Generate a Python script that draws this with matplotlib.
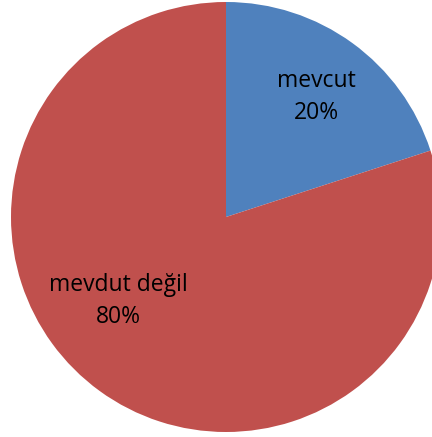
import matplotlib.pyplot as plt

labels = ['mevcut', 'mevdut değil']
values = [20, 80]
colors = ['#4F81BD', '#C0504D']

W, H = 432, 437
cx, cy, r = 226, 217, 215  # pie centre and radius in pixels

fig = plt.figure(figsize=(W / 100, H / 100), dpi=100)
ax = fig.add_axes([0, 0, 1, 1])
ax.pie(values, colors=colors, startangle=90, counterclock=False,
       wedgeprops=dict(linewidth=0))
ax.set_xlim(-cx / r, (W - cx) / r)
ax.set_ylim(-(H - cy) / r, cy / r)
ax.set_aspect('equal')
ax.axis('off')

# label positions (pie units)
label_pos = [(0.42, 0.56), (-0.50, -0.39)]
for lab, v, (x, y) in zip(labels, values, label_pos):
    ax.text(x, y, f'{lab}\n{v}%', ha='center', va='center', fontsize=16.5,
            family='Open Sans', linespacing=1.45)

fig.savefig('out.png', dpi=100)
